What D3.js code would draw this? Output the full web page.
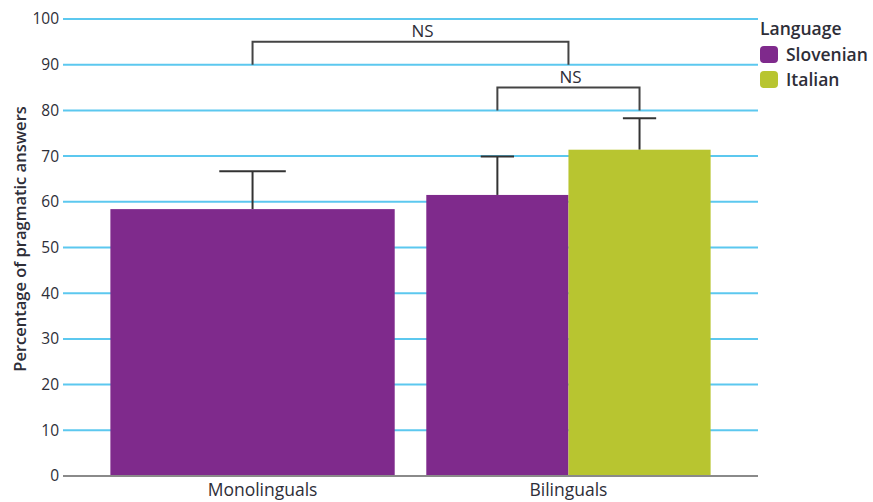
<!DOCTYPE html>
<html>
<head>
<meta charset="utf-8">
<script src="https://cdn.jsdelivr.net/npm/d3@7"></script>
<style>
  body { margin: 0; background: #fff; }
  text { font-family: "Open Sans", sans-serif; fill: #2e2e38; }
</style>
</head>
<body>
<div id="chart"></div>
<script>
const groups = ["Monolinguals", "Bilinguals"];
const languages = ["Slovenian", "Italian"];
const colors = ["#7f2a8c", "#b8c530"];
// mean and upper error value per group / language
const barGroup = ["Monolinguals", "Bilinguals", "Bilinguals"];
const barLanguage = ["Slovenian", "Slovenian", "Italian"];
const barMean = [58.4, 61.5, 71.4];
const barError = [8.3, 8.4, 6.9];
const yTicks = [0, 10, 20, 30, 40, 50, 60, 70, 80, 90, 100];
// significance brackets: [left, right] as group|language keys, bracket level
const sigFrom = ["Monolinguals", "Bilinguals|Slovenian"];
const sigTo = ["Bilinguals", "Bilinguals|Italian"];
const sigLevel = [95, 85];
const sigDrop = [5, 5];
const sigLabel = ["NS", "NS"];

const width = 873, height = 502;
const svg = d3.select('#chart').append('svg')
    .attr('width', width)
    .attr('height', height);

const x = d3.scaleBand()
    .domain(groups)
    .range([63, 758])
    .paddingInner(0.1)
    .paddingOuter(0.15);

const y = d3.scaleLinear()
    .domain([0, 100])
    .range([476, 19]);

const color = d3.scaleOrdinal().domain(languages).range(colors);

const bars = barMean.map((m, i) => ({
    group: barGroup[i], lang: barLanguage[i], mean: m, err: barError[i]
}));

// sub scale per group, only languages present in that group
function subScale(g) {
    const langs = bars.filter(b => b.group === g).map(b => b.lang);
    return d3.scaleBand().domain(langs).range([x(g), x(g) + x.bandwidth()]);
}
bars.forEach(b => {
    const s = subScale(b.group);
    b.x0 = s(b.lang);
    b.w = s.bandwidth();
    b.cx = b.x0 + b.w / 2;
});

// gridlines + y axis labels
const yAxis = d3.axisLeft(y)
    .tickValues(yTicks)
    .tickSize(0)
    .tickPadding(4);
const yg = svg.append('g')
    .attr('transform', 'translate(63,0)')
    .call(yAxis);
yg.select('.domain').remove();
yg.selectAll('text')
    .style('font-family', '"Open Sans", sans-serif')
    .style('font-size', '15.5px')
    .style('font-weight', 500)
    .style('fill', '#2e2e38');

svg.append('g').selectAll('line')
    .data(yTicks.filter(t => t > 0))
    .enter()
    .append('line')
    .attr('x1', 63).attr('x2', 758)
    .attr('y1', d => y(d)).attr('y2', d => y(d))
    .attr('stroke', '#5cc8ef')
    .attr('stroke-width', 2);

// error bars (drawn before bars so the stem hides under the bar)
const errG = svg.append('g').attr('stroke', '#333').attr('stroke-width', 2);
bars.forEach(b => {
    const cap = b.w * 0.117;
    errG.append('line')
        .attr('x1', b.cx).attr('x2', b.cx)
        .attr('y1', y(b.mean)).attr('y2', y(b.mean + b.err));
    errG.append('line')
        .attr('x1', b.cx - cap).attr('x2', b.cx + cap)
        .attr('y1', y(b.mean + b.err)).attr('y2', y(b.mean + b.err));
});

svg.append('g').selectAll('rect')
    .data(bars)
    .enter()
    .append('rect')
    .attr('x', d => d.x0)
    .attr('y', d => y(d.mean))
    .attr('width', d => d.w)
    .attr('height', d => y(0) - y(d.mean))
    .attr('fill', d => color(d.lang));

// baseline
svg.append('line')
    .attr('x1', 63).attr('x2', 758)
    .attr('y1', y(0)).attr('y2', y(0))
    .attr('stroke', '#8a8a8a')
    .attr('stroke-width', 2);

// x labels
const xAxis = d3.axisBottom(x).tickSize(0).tickPadding(8);
const xg = svg.append('g')
    .attr('transform', `translate(0,${y(0)})`)
    .call(xAxis);
xg.select('.domain').remove();
xg.selectAll('text')
    .attr('dx', d => d === 'Monolinguals' ? 10 : 0)
    .style('font-family', '"Open Sans", sans-serif')
    .style('font-size', '17.5px')
    .style('fill', '#2e2e38');

// significance brackets
function keyX(k) {
    if (k.includes('|')) {
        const [g, l] = k.split('|');
        return bars.find(b => b.group === g && b.lang === l).cx;
    }
    const b = bars.filter(b => b.group === k);
    return b.length === 1 ? b[0].cx : x(k) + x.bandwidth() / 2;
}
const sigG = svg.append('g');
sigLevel.forEach((lvl, i) => {
    const x1 = keyX(sigFrom[i]), x2 = keyX(sigTo[i]);
    sigG.append('path')
        .attr('d', `M${x1},${y(lvl - sigDrop[i])}V${y(lvl)}H${x2}V${y(lvl - sigDrop[i])}`)
        .attr('fill', 'none')
        .attr('stroke', '#444')
        .attr('stroke-width', 2);
    sigG.append('text')
        .attr('x', (x1 + x2) / 2 + (i === 0 ? 12 : 2))
        .attr('y', y(lvl) - 5)
        .attr('text-anchor', 'middle')
        .style('font-size', '17px')
        .text(sigLabel[i]);
});

// y title
svg.append('text')
    .attr('transform', 'translate(26,239) rotate(-90)')
    .attr('text-anchor', 'middle')
    .style('font-size', '16.5px')
    .style('font-weight', 600)
    .text('Percentage of pragmatic answers');

// legend
const legend = svg.append('g').attr('transform', 'translate(760,0)');
legend.append('text')
    .attr('x', 0).attr('y', 35)
    .style('font-size', '17.5px')
    .style('font-weight', 600)
    .text('Language');
languages.forEach((l, i) => {
    legend.append('rect')
        .attr('x', 0).attr('y', 46 + i * 25)
        .attr('width', 18).attr('height', 17)
        .attr('rx', 4)
        .attr('fill', color(l));
    legend.append('text')
        .attr('x', 26).attr('y', 61 + i * 25)
        .style('font-size', '17.5px')
        .style('font-weight', 600)
        .text(l);
});
</script>
</body>
</html>
